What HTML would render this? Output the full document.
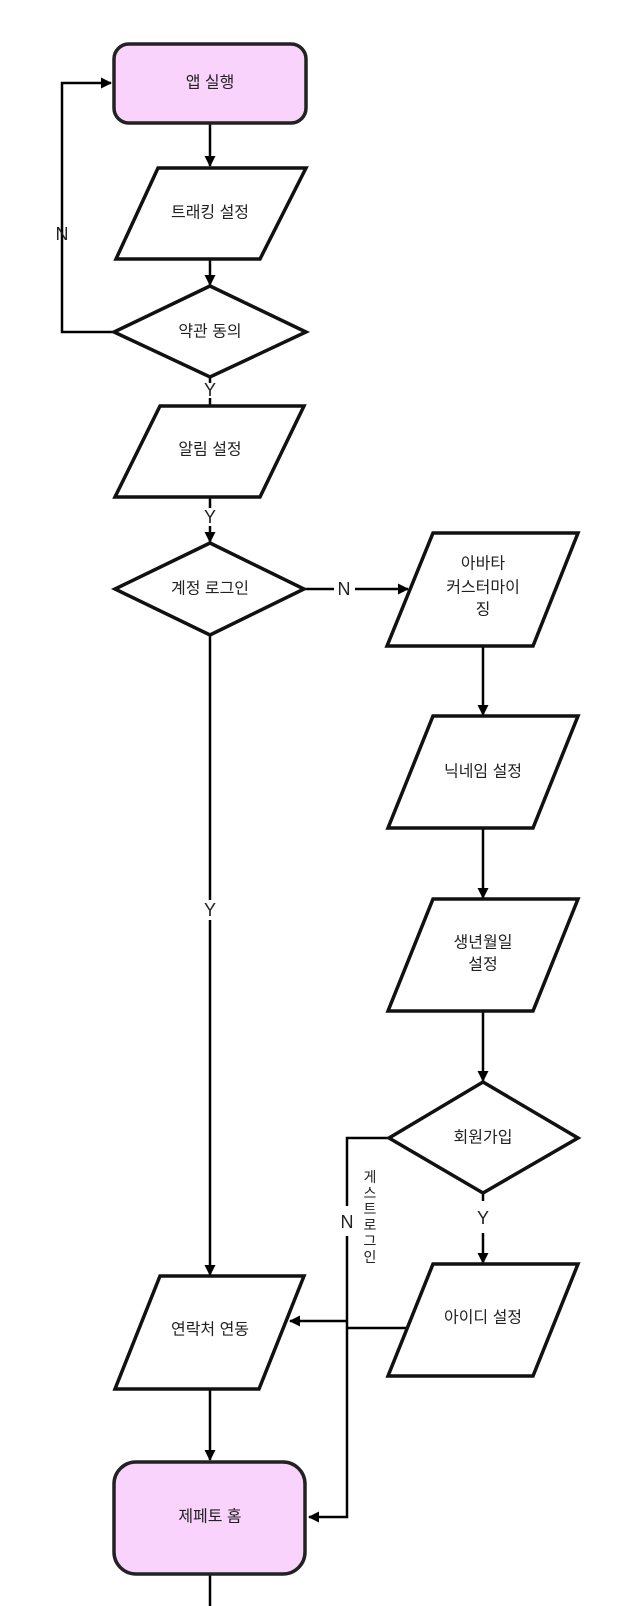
<!DOCTYPE html>
<html><head><meta charset="utf-8"><style>html,body{margin:0;padding:0;background:#fff;}svg{display:block}</style></head>
<body>
<svg width="631" height="1606" viewBox="0 0 631 1606" xmlns="http://www.w3.org/2000/svg">
<defs><marker id="a" markerWidth="11" markerHeight="11" refX="10" refY="5.5" orient="auto" markerUnits="userSpaceOnUse"><path d="M0,0 L11,5.5 L0,11 z" fill="#000"/></marker></defs>
<g fill="none" stroke="#000" stroke-width="2.5">
<line x1="210" y1="124" x2="210" y2="166" marker-end="url(#a)"/>
<line x1="210" y1="260" x2="210" y2="285" marker-end="url(#a)"/>
<polyline points="114,332 62,332 62,83 111,83" marker-end="url(#a)"/>
<line x1="210" y1="377" x2="210" y2="383"/>
<line x1="210" y1="398" x2="210" y2="405"/>
<line x1="210" y1="498" x2="210" y2="508"/>
<line x1="210" y1="526" x2="210" y2="542" marker-end="url(#a)"/>
<line x1="304" y1="589" x2="334" y2="589"/>
<line x1="355" y1="589" x2="408" y2="589" marker-end="url(#a)"/>
<line x1="210" y1="635" x2="210" y2="900"/>
<line x1="210" y1="920" x2="210" y2="1275" marker-end="url(#a)"/>
<line x1="483" y1="646" x2="483" y2="715" marker-end="url(#a)"/>
<line x1="483" y1="829" x2="483" y2="898" marker-end="url(#a)"/>
<line x1="483" y1="1012" x2="483" y2="1081" marker-end="url(#a)"/>
<line x1="483" y1="1193" x2="483" y2="1201"/>
<line x1="483" y1="1233" x2="483" y2="1263" marker-end="url(#a)"/>
<polyline points="389,1138 347,1138 347,1206"/>
<polyline points="347,1236 347,1517 309,1517" marker-end="url(#a)"/>
<line x1="347" y1="1321" x2="290" y2="1321" marker-end="url(#a)"/>
<line x1="347" y1="1328" x2="407" y2="1328"/>
<line x1="210" y1="1390" x2="210" y2="1460" marker-end="url(#a)"/>
<line x1="210" y1="1575" x2="210" y2="1606"/>
</g>
<g stroke="#222" stroke-width="3.5">
<rect x="114" y="44" width="192" height="79" rx="15" fill="#fad3fd"/>
<rect x="114" y="1462" width="191" height="112" rx="22" fill="#fad3fd"/>
</g>
<g stroke="#111" stroke-width="3.5" fill="#fff" stroke-linejoin="miter">
<polygon points="158,168 306,168 260,259 116,259"/>
<polygon points="210,286 306,332 210,377 114,332"/>
<polygon points="160,406 304,406 260,497 115,497"/>
<polygon points="210,543 304,589 210,635 115,589"/>
<polygon points="433,533 578,533 533,646 387,646"/>
<polygon points="433,716 578,716 533,828 388,828"/>
<polygon points="433,899 578,899 533,1011 388,1011"/>
<polygon points="483,1082 578,1138 483,1193 389,1138"/>
<polygon points="433,1264 578,1264 533,1376 388,1376"/>
<polygon points="160,1276 304,1276 259,1389 115,1389"/>
</g>
<g font-family="Liberation Sans, Noto Sans CJK KR, sans-serif" font-size="16" fill="#222" text-anchor="middle" dominant-baseline="central">
<text x="210" y="83">앱 실행</text>
<text x="210" y="213">트래킹 설정</text>
<text x="210" y="332">약관 동의</text>
<text x="210" y="450">알림 설정</text>
<text x="210" y="589">계정 로그인</text>
<text x="483" y="564">아바타</text>
<text x="483" y="588">커스터마이</text>
<text x="483" y="610">징</text>
<text x="483" y="772">닉네임 설정</text>
<text x="483" y="943">생년월일</text>
<text x="483" y="965">설정</text>
<text x="483" y="1138">회원가입</text>
<text x="483" y="1318">아이디 설정</text>
<text x="210" y="1330">연락처 연동</text>
<text x="210" y="1517">제페토 홈</text>
<text x="62" y="234" font-size="18">N</text>
<text x="210" y="390" font-size="18">Y</text>
<text x="210" y="517" font-size="18">Y</text>
<text x="344" y="589" font-size="18">N</text>
<text x="210" y="910" font-size="18">Y</text>
<text x="483" y="1218" font-size="18">Y</text>
<text x="347" y="1222" font-size="18">N</text>
<text x="370" y="1177" font-size="14">게</text>
<text x="370" y="1193" font-size="14">스</text>
<text x="370" y="1209" font-size="14">트</text>
<text x="370" y="1225" font-size="14">로</text>
<text x="370" y="1241" font-size="14">그</text>
<text x="370" y="1257" font-size="14">인</text>
</g>
</svg>
</body></html>
